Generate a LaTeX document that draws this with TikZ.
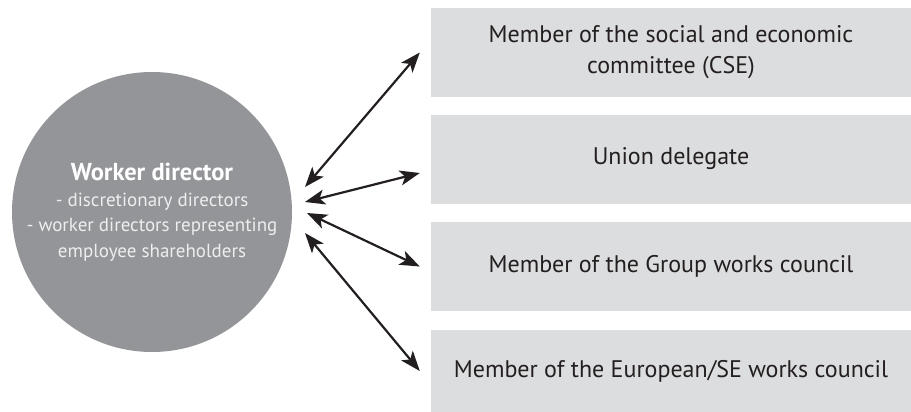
\documentclass[tikz,border=0pt]{standalone}
\usepackage{fontspec}
\setmainfont{PT Sans}
\usetikzlibrary{arrows.meta,shapes,positioning}

\definecolor{circlegrey}{HTML}{939598}
\definecolor{boxgrey}{HTML}{DCDDDE}
\definecolor{inkgrey}{HTML}{231F20}
\definecolor{paleink}{HTML}{EEEEEF}

\begin{document}
\begin{tikzpicture}[x=1pt,y=-1pt]

					\tikzstyle{director} = [
						circle,
						fill=circlegrey,
						minimum size=280pt,
						inner sep=0pt,
						align=center,
						text=paleink,
						font=\fontsize{19}{25.5}\selectfont
					]
					\tikzstyle{role} = [
						rectangle,
						fill=boxgrey,
						minimum width=480pt,
						minimum height=89pt,
						inner sep=0pt,
						align=center,
						text=inkgrey,
						font=\fontsize{24}{31}\selectfont
					]
					\tikzstyle{link} = [
						>={Stealth[length=20pt,width=15pt,inset=5pt]},
						<->,
						line width=2.2pt,
						draw=inkgrey
					]

					\useasboundingbox (0,0) rectangle (911,412);

					\node (director) [style=director] at (152,212) {{\fontsize{24.5}{28}\selectfont\bfseries\color{white}Worker director}\\- discretionary directors\\- worker directors representing\\employee shareholders};

					\node (cse) [style=role] at (671,52.5) {Member of the social and economic\\committee (CSE)};
					\node (union) [style=role] at (671,159) {Union delegate};
					\node (group) [style=role] at (671,266.5) {Member of the Group works council};
					\node (ewc) [style=role, minimum height=82pt] at (671,371) {Member of the European/SE works council};

					\coordinate (d1) at (305,187);
					\coordinate (d2) at (305,202);
					\coordinate (d3) at (307,213);
					\coordinate (d4) at (305,233);

					\draw [style=link] (d1) -- ([xshift=-11pt]cse.west);
					\draw [style=link] (d2) -- ([xshift=-11pt,yshift=-14pt]union.west);
					\draw [style=link] (d3) -- ([xshift=-11pt]group.west);
					\draw [style=link] (d4) -- ([xshift=-11pt]ewc.west);

				\end{tikzpicture}
\end{document}
